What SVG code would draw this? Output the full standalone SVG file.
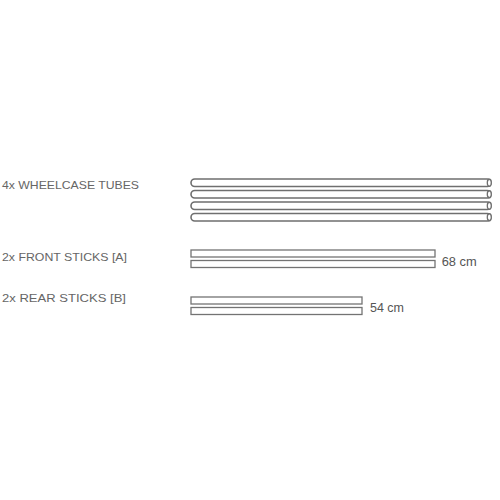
<svg xmlns="http://www.w3.org/2000/svg" width="500" height="500" viewBox="0 0 500 500">
<style>
.lbl{font-family:"Liberation Sans","DejaVu Sans",sans-serif;font-size:11.5px;fill:#666}
.dim{font-family:"Liberation Sans","DejaVu Sans",sans-serif;font-size:12.5px;fill:#555}
.tube{fill:#fff;stroke:#6f6f6f;stroke-width:1.6}
.cap{fill:#fff;stroke:#6f6f6f;stroke-width:1.3}
.stick{fill:#fff;stroke:#737373;stroke-width:1.3}
</style>
<rect width="500" height="500" fill="#fff"/>
<g id="tubes">
<text class="lbl" x="2" y="189" textLength="137" lengthAdjust="spacingAndGlyphs">4x WHEELCASE TUBES</text>
<rect class="tube" x="191" y="179" width="300" height="7.5" rx="3.75"/>
<ellipse class="cap" cx="489.3" cy="182.75" rx="2" ry="3.5"/>
<rect class="tube" x="191" y="190.5" width="300" height="7.5" rx="3.75"/>
<ellipse class="cap" cx="489.3" cy="194.25" rx="2" ry="3.5"/>
<rect class="tube" x="191" y="202" width="300" height="7.5" rx="3.75"/>
<ellipse class="cap" cx="489.3" cy="205.75" rx="2" ry="3.5"/>
<rect class="tube" x="191" y="213.5" width="300" height="7.5" rx="3.75"/>
<ellipse class="cap" cx="489.3" cy="217.25" rx="2" ry="3.5"/>
</g>
<g id="front-sticks">
<text class="lbl" x="2" y="260.7" textLength="125" lengthAdjust="spacingAndGlyphs">2x FRONT STICKS [A]</text>
<rect class="stick" x="191" y="250" width="244" height="7"/>
<rect class="stick" x="191" y="260.5" width="244" height="7"/>
<text class="dim" x="441.7" y="266" textLength="35" lengthAdjust="spacingAndGlyphs">68 cm</text>
</g>
<g id="rear-sticks">
<text class="lbl" x="2" y="302.3" textLength="124" lengthAdjust="spacingAndGlyphs">2x REAR STICKS [B]</text>
<rect class="stick" x="191" y="297" width="171" height="7"/>
<rect class="stick" x="191" y="307.5" width="171" height="7"/>
<text class="dim" x="370" y="312.3" textLength="34" lengthAdjust="spacingAndGlyphs">54 cm</text>
</g>
<g id="connectors"/>
</svg>
